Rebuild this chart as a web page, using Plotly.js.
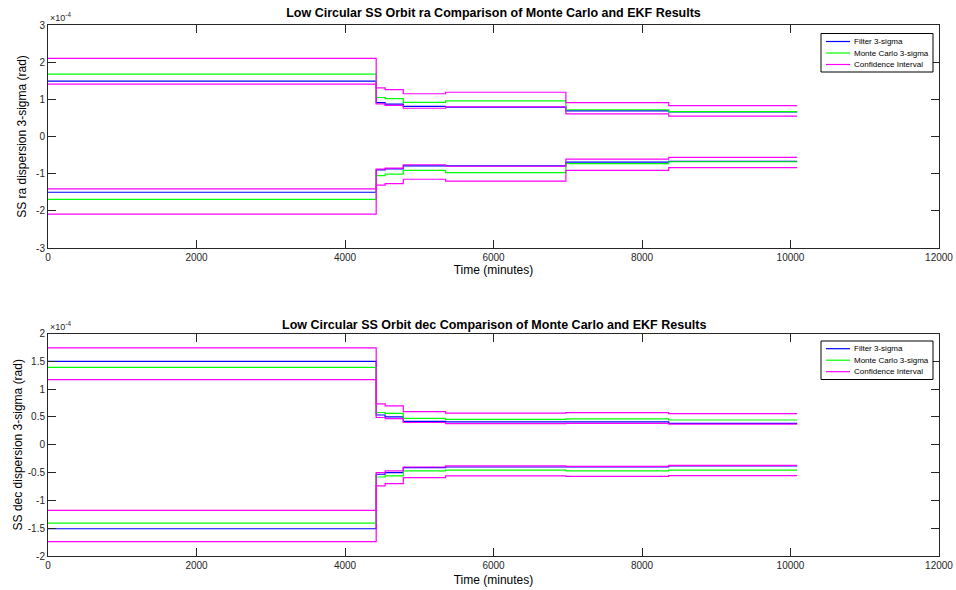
<!DOCTYPE html>
<html>
<head>
<meta charset="utf-8">
<script src="https://cdn.plot.ly/plotly-3.0.1.min.js"></script>
<style>html,body{margin:0;padding:0;background:#fff;}#chart{width:956px;height:590px;}</style>
</head>
<body>
<div id="chart"></div>
<script>
// ---- Data (values in units of 1e-4 rad) ----
const timeMinutes = [0, 4420, 4540, 4785, 5355, 6975, 8360, 10090];

// ra panel
const raFilterUpper = [1.49, 0.91, 0.87, 0.81, 0.79, 0.69, 0.66, 0.66];
const raFilterLower = [-1.50, -0.90, -0.87, -0.79, -0.79, -0.69, -0.67, -0.67];
const raMCUpper     = [1.68, 1.05, 1.02, 0.92, 0.96, 0.72, 0.67, 0.67];
const raMCLower     = [-1.69, -1.05, -1.01, -0.91, -0.97, -0.73, -0.68, -0.68];
const raCIUpperHi   = [2.10, 1.31, 1.26, 1.15, 1.19, 0.91, 0.83, 0.83];
const raCIUpperLo   = [1.41, 0.88, 0.84, 0.76, 0.80, 0.61, 0.55, 0.55];
const raCILowerHi   = [-1.41, -0.88, -0.85, -0.76, -0.80, -0.61, -0.56, -0.56];
const raCILowerLo   = [-2.09, -1.31, -1.27, -1.15, -1.20, -0.91, -0.84, -0.84];

// dec panel
const decFilterUpper = [1.50, 0.535, 0.50, 0.42, 0.41, 0.41, 0.385, 0.385];
const decFilterLower = [-1.51, -0.53, -0.50, -0.41, -0.40, -0.40, -0.38, -0.38];
const decMCUpper     = [1.39, 0.58, 0.565, 0.475, 0.455, 0.465, 0.445, 0.445];
const decMCLower     = [-1.41, -0.58, -0.56, -0.47, -0.455, -0.47, -0.455, -0.455];
const decCIUpperHi   = [1.74, 0.735, 0.70, 0.595, 0.57, 0.577, 0.56, 0.56];
const decCIUpperLo   = [1.17, 0.49, 0.47, 0.40, 0.38, 0.385, 0.37, 0.37];
const decCILowerHi   = [-1.18, -0.50, -0.47, -0.40, -0.38, -0.39, -0.37, -0.37];
const decCILowerLo   = [-1.74, -0.74, -0.70, -0.59, -0.56, -0.57, -0.555, -0.555];

const xTicks = [0, 2000, 4000, 6000, 8000, 10000, 12000];
const xTickText = ['0', '2000', '4000', '6000', '8000', '10000', '12000'];
const raYTicks = [-3, -2, -1, 0, 1, 2, 3];
const raYTickText = ['-3', '-2', '-1', '0', '1', '2', '3'];
const decYTicks = [-2, -1.5, -1, -0.5, 0, 0.5, 1, 1.5, 2];
const decYTickText = ['-2', '-1.5', '-1', '-0.5', '0', '0.5', '1', '1.5', '2'];

const seriesNames = ['Filter 3-sigma', 'Monte Carlo 3-sigma', 'Confidence Interval'];
const seriesColors = ['#0000ff', '#00ff00', '#ff00ff'];

// ---- Layout geometry ----
const W = 956, H = 590;
const M = {l: 48, r: 17, t: 25, b: 34};
const PW = W - M.l - M.r, PH = H - M.t - M.b;
const px2x = p => (p - M.l) / PW;
const py2y = p => (H - M.b - p) / PH;

function tr(x, y, color, xa, ya) {
  return {x: x, y: y, type: 'scatter', mode: 'lines', line: {shape: 'hv', color: color, width: 1.2},
          xaxis: xa, yaxis: ya, showlegend: false, hoverinfo: 'skip'};
}

const traces = [
  tr(timeMinutes, raFilterUpper, seriesColors[0], 'x', 'y'),
  tr(timeMinutes, raFilterLower, seriesColors[0], 'x', 'y'),
  tr(timeMinutes, raMCUpper, seriesColors[1], 'x', 'y'),
  tr(timeMinutes, raMCLower, seriesColors[1], 'x', 'y'),
  tr(timeMinutes, raCIUpperHi, seriesColors[2], 'x', 'y'),
  tr(timeMinutes, raCIUpperLo, seriesColors[2], 'x', 'y'),
  tr(timeMinutes, raCILowerHi, seriesColors[2], 'x', 'y'),
  tr(timeMinutes, raCILowerLo, seriesColors[2], 'x', 'y'),
  tr(timeMinutes, decFilterUpper, seriesColors[0], 'x2', 'y2'),
  tr(timeMinutes, decFilterLower, seriesColors[0], 'x2', 'y2'),
  tr(timeMinutes, decMCUpper, seriesColors[1], 'x2', 'y2'),
  tr(timeMinutes, decMCLower, seriesColors[1], 'x2', 'y2'),
  tr(timeMinutes, decCIUpperHi, seriesColors[2], 'x2', 'y2'),
  tr(timeMinutes, decCIUpperLo, seriesColors[2], 'x2', 'y2'),
  tr(timeMinutes, decCILowerHi, seriesColors[2], 'x2', 'y2'),
  tr(timeMinutes, decCILowerLo, seriesColors[2], 'x2', 'y2')
];

const axisColor = '#262626';
const FONT = 'Liberation Sans, Arial, Helvetica, sans-serif';
function xAxis(anchor, standoff) {
  return {anchor: anchor, domain: [0, 1], range: [0, 12000], tickvals: xTicks, ticktext: xTickText,
          ticks: 'inside', ticklen: 8, tickcolor: axisColor, mirror: 'ticks', showline: true,
          linecolor: axisColor, linewidth: 1, showgrid: false, zeroline: false,
          tickfont: {size: 10, color: axisColor, family: FONT},
          title: {text: 'Time (minutes)', font: {size: 12, color: '#000', family: FONT}, standoff: standoff},
          automargin: false};
}
function yAxis(anchor, domain, range, tv, tt, title, standoff) {
  return {anchor: anchor, domain: domain, range: range, tickvals: tv, ticktext: tt,
          ticks: 'inside', ticklen: 8, tickcolor: axisColor, mirror: 'ticks', showline: true,
          linecolor: axisColor, linewidth: 1, showgrid: false, zeroline: false,
          tickfont: {size: 10, color: axisColor, family: FONT},
          title: {text: title, font: {size: 12, color: '#000', family: FONT}, standoff: standoff},
          automargin: false};
}

const topDomain = [py2y(248), 1];
const botDomain = [0, py2y(333.5)];

const shapes = [];
const annotations = [];

// Bottom panel title
annotations.push({text: '<b>Low Circular SS Orbit dec Comparison of Monte Carlo and EKF Results</b>',
  xref: 'paper', yref: 'paper', x: 0.5, y: py2y(325), xanchor: 'center', yanchor: 'middle',
  showarrow: false, font: {size: 12.5, color: '#000', family: FONT}});

// Exponent labels
[25, 333.5].forEach(py => {
  annotations.push({text: '×10<sup>-4</sup>', xref: 'paper', yref: 'paper', x: 0, y: py2y(py),
    xanchor: 'left', yanchor: 'bottom', showarrow: false,
    font: {size: 9, color: axisColor, family: FONT}});
});

// Legends (box, line samples, labels)
function legend(boxTop, boxBottom, entryYs) {
  shapes.push({type: 'rect', xref: 'paper', yref: 'paper', x0: px2x(821), x1: px2x(933),
    y0: py2y(boxBottom), y1: py2y(boxTop), line: {color: '#000', width: 1}, fillcolor: '#fff', layer: 'above'});
  entryYs.forEach((py, i) => {
    shapes.push({type: 'line', xref: 'paper', yref: 'paper', x0: px2x(826), x1: px2x(850),
      y0: py2y(py), y1: py2y(py), line: {color: seriesColors[i], width: 1.2}, layer: 'above'});
    annotations.push({text: seriesNames[i], xref: 'paper', yref: 'paper', x: px2x(852), y: py2y(py),
      xanchor: 'left', yanchor: 'middle', showarrow: false,
      font: {size: 8, color: '#000', family: FONT}});
  });
}
legend(33.5, 72, [41.5, 53, 64.5]);
legend(341, 379.5, [348.7, 360.2, 371.7]);

const layout = {
  width: W, height: H, margin: M, paper_bgcolor: '#fff', plot_bgcolor: '#fff',
  font: {family: FONT},
  title: {text: '<b>Low Circular SS Orbit ra Comparison of Monte Carlo and EKF Results</b>',
          x: 0.5, xref: 'paper', xanchor: 'center', y: 1 - 13 / H, yanchor: 'middle',
          font: {size: 12.5, color: '#000', family: FONT}},
  showlegend: false,
  xaxis: xAxis('y', 2),
  yaxis: yAxis('x', topDomain, [-3, 3], raYTicks, raYTickText, 'SS ra dispersion 3-sigma (rad)', 6),
  xaxis2: xAxis('y2', 5),
  yaxis2: yAxis('x2', botDomain, [-2, 2], decYTicks, decYTickText, 'SS dec dispersion 3-sigma (rad)', 2),
  shapes: shapes,
  annotations: annotations
};

Plotly.newPlot('chart', traces, layout, {staticPlot: true, displayModeBar: false});
</script>
</body>
</html>
